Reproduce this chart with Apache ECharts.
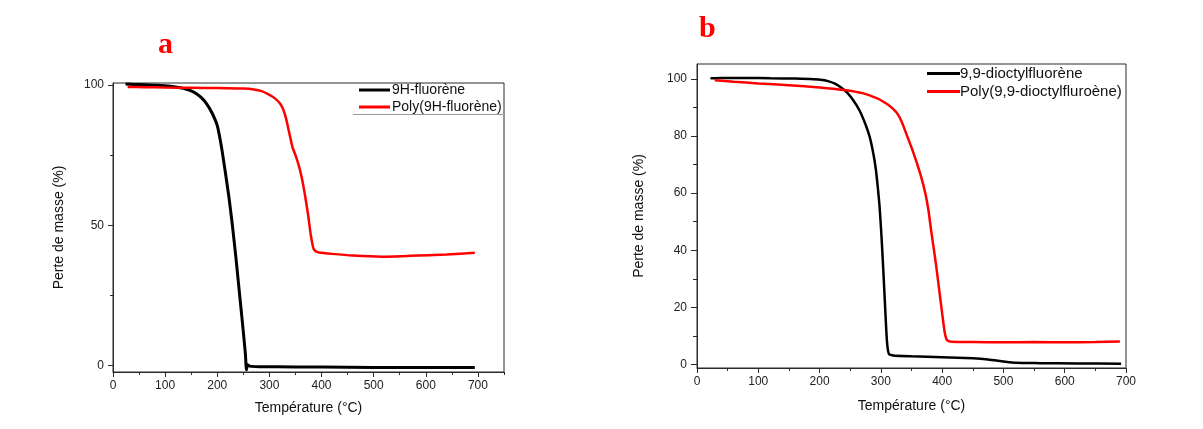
<!DOCTYPE html>
<html>
<head>
<meta charset="utf-8">
<script src="https://cdn.jsdelivr.net/npm/echarts@6/dist/echarts.min.js"></script>
<style>
html,body{margin:0;padding:0;background:#fff;}
#chart{width:1203px;height:429px;}
</style>
</head>
<body>
<div id="chart"></div>
<script>
// ---- Panel a : 9H-fluorène ----
const tempA_mono = [24, 40, 60, 80, 100, 120, 135, 150, 160, 170, 180, 190, 200, 208, 215, 222, 229, 236, 243, 250, 254, 256, 258, 262, 280, 350, 450, 550, 650, 694];
const massA_mono = [100.3, 100.2, 100.1, 99.9, 99.7, 99.3, 98.8, 97.9, 96.9, 95.4, 93.2, 90, 85.5, 78, 69.5, 60.5, 50, 38, 25, 12, 4, -1.5, 0.3, -0.2, -0.4, -0.5, -0.6, -0.7, -0.7, -0.7];
const tempA_poly = [28, 60, 100, 150, 200, 250, 270, 285, 300, 310, 320, 326, 332, 338, 344, 350, 356, 362, 368, 374, 379, 384, 388, 395, 420, 460, 515, 570, 640, 694];
const massA_poly = [99.3, 99.2, 99.1, 99, 98.9, 98.7, 98.4, 97.8, 96.5, 95.3, 93.5, 91.5, 88, 83, 78, 75, 71.5, 67, 61, 54, 47, 42, 40.8, 40.3, 39.8, 39.2, 38.8, 39.1, 39.6, 40.2];

// ---- Panel b : 9,9-dioctylfluorène ----
const tempB_mono = [22, 40, 80, 120, 160, 190, 205, 215, 225, 235, 245, 255, 265, 275, 282, 288, 292, 295, 298, 301, 304, 307, 310, 313, 320, 350, 400, 450, 475, 500, 520, 560, 620, 692];
const massB_mono = [100.2, 100.3, 100.3, 100.2, 100.1, 99.9, 99.6, 99.1, 98.3, 97, 95.2, 92.5, 89, 84, 79.5, 73.5, 68, 62, 55, 45, 33, 20, 8, 3.8, 3.2, 2.9, 2.6, 2.2, 1.8, 1.1, 0.6, 0.5, 0.4, 0.3];
const tempB_poly = [29, 60, 100, 150, 200, 240, 270, 295, 310, 320, 328, 335, 342, 350, 358, 366, 373, 378, 382, 386, 390, 395, 400, 404, 408, 415, 450, 500, 550, 600, 650, 690];
const massB_poly = [99.5, 99, 98.4, 97.8, 97, 96.1, 95, 93.1, 91.2, 89.5, 87.5, 84.5, 80.5, 76, 71, 65.5, 59.5, 53.5, 47, 41, 35, 26.5, 18, 11.5, 8.5, 8.0, 7.9, 7.8, 7.9, 7.8, 7.9, 8.1];

// ---- names ----
const seriesNamesA = ['9H-fluorène', 'Poly(9H-fluorène)'];
const seriesNamesB = ['9,9-dioctylfluorène', 'Poly(9,9-dioctylfluroène)'];
const panelLabels = ['a', 'b'];
const xTitle = 'Température (°C)';
const yTitle = 'Perte de masse (%)';

// ---- ticks ----
const xMajorA = [0, 100, 200, 300, 400, 500, 600, 700];
const xMinorA = [50, 150, 250, 350, 450, 550, 650, 750];
const yMajorA = [0, 50, 100];
const yMinorA = [25, 75];
const xMajorB = [0, 100, 200, 300, 400, 500, 600, 700];
const xMinorB = [50, 150, 250, 350, 450, 550, 650];
const yMajorB = [0, 20, 40, 60, 80, 100];
const yMinorB = [10, 30, 50, 70, 90];

const FONT = "'Liberation Sans', Arial, sans-serif";
const AX = '#2a2a2a';

function pairs(xs, ys) { return xs.map((x, i) => [x, ys[i]]); }

function mainX(grid, min, max, ticks, withName, gap) {
  return {
    type: 'value', gridIndex: grid, min: min, max: max, position: 'bottom',
    axisLine: { show: true, onZero: false, lineStyle: { color: AX, width: 1 } },
    axisTick: { show: true, inside: false, length: 5, customValues: ticks, lineStyle: { color: AX } },
    axisLabel: { show: true, customValues: ticks, margin: 8, color: '#222', fontSize: 12, fontFamily: FONT },
    splitLine: { show: false },
    name: withName ? xTitle : '', nameLocation: 'middle', nameGap: gap,
    nameTextStyle: { fontSize: 14, color: '#111', fontFamily: FONT }
  };
}
function minorX(grid, min, max, ticks) {
  return {
    type: 'value', gridIndex: grid, min: min, max: max, position: 'bottom',
    axisLine: { show: false, onZero: false },
    axisTick: { show: true, inside: false, length: 3, customValues: ticks, lineStyle: { color: AX } },
    axisLabel: { show: false },
    splitLine: { show: false }
  };
}
function mainY(grid, min, max, ticks, gap, margin, tlen) {
  return {
    type: 'value', gridIndex: grid, min: min, max: max, position: 'left',
    axisLine: { show: true, onZero: false, lineStyle: { color: AX, width: 1 } },
    axisTick: { show: true, inside: false, length: tlen, customValues: ticks, lineStyle: { color: AX } },
    axisLabel: { show: true, customValues: ticks, margin: margin, color: '#222', fontSize: 12, fontFamily: FONT },
    splitLine: { show: false },
    name: yTitle, nameLocation: 'middle', nameGap: gap,
    nameTextStyle: { fontSize: 14, color: '#111', fontFamily: FONT }
  };
}
function minorY(grid, min, max, ticks, tlen) {
  return {
    type: 'value', gridIndex: grid, min: min, max: max, position: 'left',
    axisLine: { show: false, onZero: false },
    axisTick: { show: true, inside: false, length: tlen, customValues: ticks, lineStyle: { color: AX } },
    axisLabel: { show: false },
    splitLine: { show: false }
  };
}

const chart = echarts.init(document.getElementById('chart'), null, { renderer: 'canvas' });
chart.setOption({
  backgroundColor: '#ffffff',
  animation: false,
  title: [
    { text: panelLabels[0], left: 158, top: 30, padding: 0,
      textStyle: { fontFamily: "'Liberation Serif', 'Times New Roman', serif", fontWeight: 'bold', fontSize: 30, color: '#ff0000' } },
    { text: panelLabels[1], left: 699, top: 14, padding: 0,
      textStyle: { fontFamily: "'Liberation Serif', 'Times New Roman', serif", fontWeight: 'bold', fontSize: 30, color: '#ff0000' } }
  ],
  grid: [
    { left: 113, top: 83, width: 391, height: 289, show: true, borderColor: AX, borderWidth: 1, backgroundColor: 'transparent', containLabel: false },
    { left: 697, top: 64, width: 429, height: 304, show: true, borderColor: AX, borderWidth: 1, backgroundColor: 'transparent', containLabel: false }
  ],
  xAxis: [
    mainX(0, 0, 750, xMajorA, true, 29),
    minorX(0, 0, 750, xMinorA),
    mainX(1, 0, 700, xMajorB, true, 31),
    minorX(1, 0, 700, xMinorB)
  ],
  yAxis: [
    mainY(0, -2.3, 100.7, yMajorA, 47, 9, 5),
    minorY(0, -2.3, 100.7, yMinorA, 3),
    mainY(1, -1.2, 105.2, yMajorB, 51, 10, 6),
    minorY(1, -1.2, 105.2, yMinorB, 4)
  ],
  legend: [
    { data: seriesNamesA, orient: 'vertical', left: 359, top: 83, padding: 0, itemGap: 3,
      icon: 'rect', itemWidth: 31, itemHeight: 3,
      textStyle: { fontSize: 14, color: '#111', fontFamily: FONT, padding: [0, 0, 0, -3] } },
    { data: seriesNamesB, orient: 'vertical', left: 927, top: 66, padding: 0, itemGap: 3,
      icon: 'rect', itemWidth: 33, itemHeight: 3,
      textStyle: { fontSize: 15, color: '#111', fontFamily: FONT, padding: [0, 0, 0, -5] } }
  ],
  graphic: [
    { type: 'line', shape: { x1: 353, y1: 114.5, x2: 504, y2: 114.5 }, style: { stroke: '#9a9a9a', lineWidth: 1 }, silent: true }
  ],
  series: [
    { name: seriesNamesA[0], type: 'line', xAxisIndex: 0, yAxisIndex: 0, data: pairs(tempA_mono, massA_mono),
      symbol: 'none', smooth: 0.2, lineStyle: { color: '#000', width: 3 }, itemStyle: { color: '#000' } },
    { name: seriesNamesA[1], type: 'line', xAxisIndex: 0, yAxisIndex: 0, data: pairs(tempA_poly, massA_poly),
      symbol: 'none', smooth: 0.2, lineStyle: { color: '#ff0000', width: 2.5 }, itemStyle: { color: '#ff0000' } },
    { name: seriesNamesB[0], type: 'line', xAxisIndex: 2, yAxisIndex: 2, data: pairs(tempB_mono, massB_mono),
      symbol: 'none', smooth: 0.2, lineStyle: { color: '#000', width: 2.5 }, itemStyle: { color: '#000' } },
    { name: seriesNamesB[1], type: 'line', xAxisIndex: 2, yAxisIndex: 2, data: pairs(tempB_poly, massB_poly),
      symbol: 'none', smooth: 0.2, lineStyle: { color: '#ff0000', width: 2.5 }, itemStyle: { color: '#ff0000' } }
  ]
});
</script>
</body>
</html>
